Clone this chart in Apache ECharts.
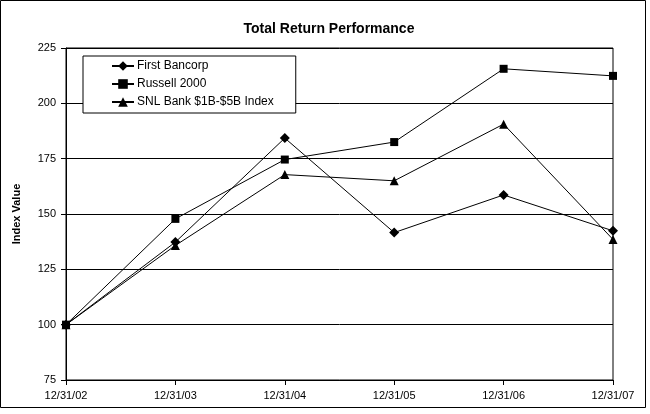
<!DOCTYPE html>
<html>
<head>
<meta charset="utf-8">
<script src="https://cdn.jsdelivr.net/npm/echarts@6/dist/echarts.min.js"></script>
<style>
html, body { margin: 0; padding: 0; background: #fff; }
#main { width: 650px; height: 414px; }
</style>
</head>
<body>
<div id="main"></div>
<script>
var dates = ['12/31/02', '12/31/03', '12/31/04', '12/31/05', '12/31/06', '12/31/07'];
var firstBancorp = [100, 137.3, 184.3, 141.6, 158.6, 142.4];
var russell2000 = [100, 147.8, 174.6, 182.5, 215.6, 212.4];
var snlBank = [100, 135.8, 167.8, 165.0, 190.6, 138.5];
var yTicks = { min: 75, max: 225, interval: 25 };

var myChart = echarts.init(document.getElementById('main'));
var font = 'Arial, "Liberation Sans", sans-serif';

function line(name, data, symbol, size) {
    return {
        name: name,
        type: 'line',
        data: data,
        symbol: symbol,
        symbolSize: size,
        showSymbol: true,
        animation: false,
        lineStyle: { color: '#000', width: 1 },
        itemStyle: { color: '#000', borderWidth: 0 }
    };
}

option = {
    backgroundColor: '#fff',
    animation: false,
    title: {
        text: 'Total Return Performance',
        left: 324,
        top: 17,
        textAlign: 'center',
        textStyle: { fontFamily: font, fontSize: 14, fontWeight: 'bold', color: '#000' }
    },
    legend: {
        orient: 'vertical',
        left: 83,
        top: 56,
        itemGap: 6,
        itemWidth: 22,
        itemHeight: 12,
        padding: [4, 22, 5, 28],
        borderColor: '#000',
        borderWidth: 1,
        backgroundColor: '#fff',
        textStyle: { fontFamily: font, fontSize: 12, color: '#000', padding: [0, 0, 0, -2] },
        data: ['First Bancorp', 'Russell 2000', 'SNL Bank $1B-$5B Index']
    },
    grid: {
        left: 66,
        right: 37,
        top: 48,
        bottom: 34,
        show: true,
        borderColor: '#000',
        borderWidth: 1
    },
    xAxis: {
        type: 'category',
        data: dates,
        boundaryGap: false,
        axisLine: { lineStyle: { color: '#000', width: 1 } },
        axisTick: { show: true, length: 5, lineStyle: { color: '#000' } },
        axisLabel: { fontFamily: font, fontSize: 11, color: '#000', margin: 10, showMaxLabel: true, showMinLabel: true },
        splitLine: { show: false }
    },
    yAxis: {
        type: 'value',
        min: yTicks.min,
        max: yTicks.max,
        interval: yTicks.interval,
        name: 'Index Value',
        nameLocation: 'middle',
        nameGap: 44,
        nameTextStyle: { fontFamily: font, fontSize: 11, fontWeight: 'bold', color: '#000' },
        axisLine: { show: true, lineStyle: { color: '#000', width: 1 } },
        axisTick: { show: true, length: 5, lineStyle: { color: '#000' } },
        axisLabel: { fontFamily: font, fontSize: 11, color: '#000', margin: 10 },
        splitLine: { show: true, lineStyle: { color: '#000', width: 1 } }
    },
    graphic: [{
        type: 'rect',
        shape: { x: 0.5, y: 0.5, width: 645, height: 407 },
        style: { fill: 'none', stroke: '#000', lineWidth: 1 },
        silent: true,
        z: -1
    }],
    series: [
        line('First Bancorp', firstBancorp, 'diamond', 10),
        line('Russell 2000', russell2000, 'rect', 8),
        line('SNL Bank $1B-$5B Index', snlBank, 'triangle', 9)
    ]
};
myChart.setOption(option);
</script>
</body>
</html>
